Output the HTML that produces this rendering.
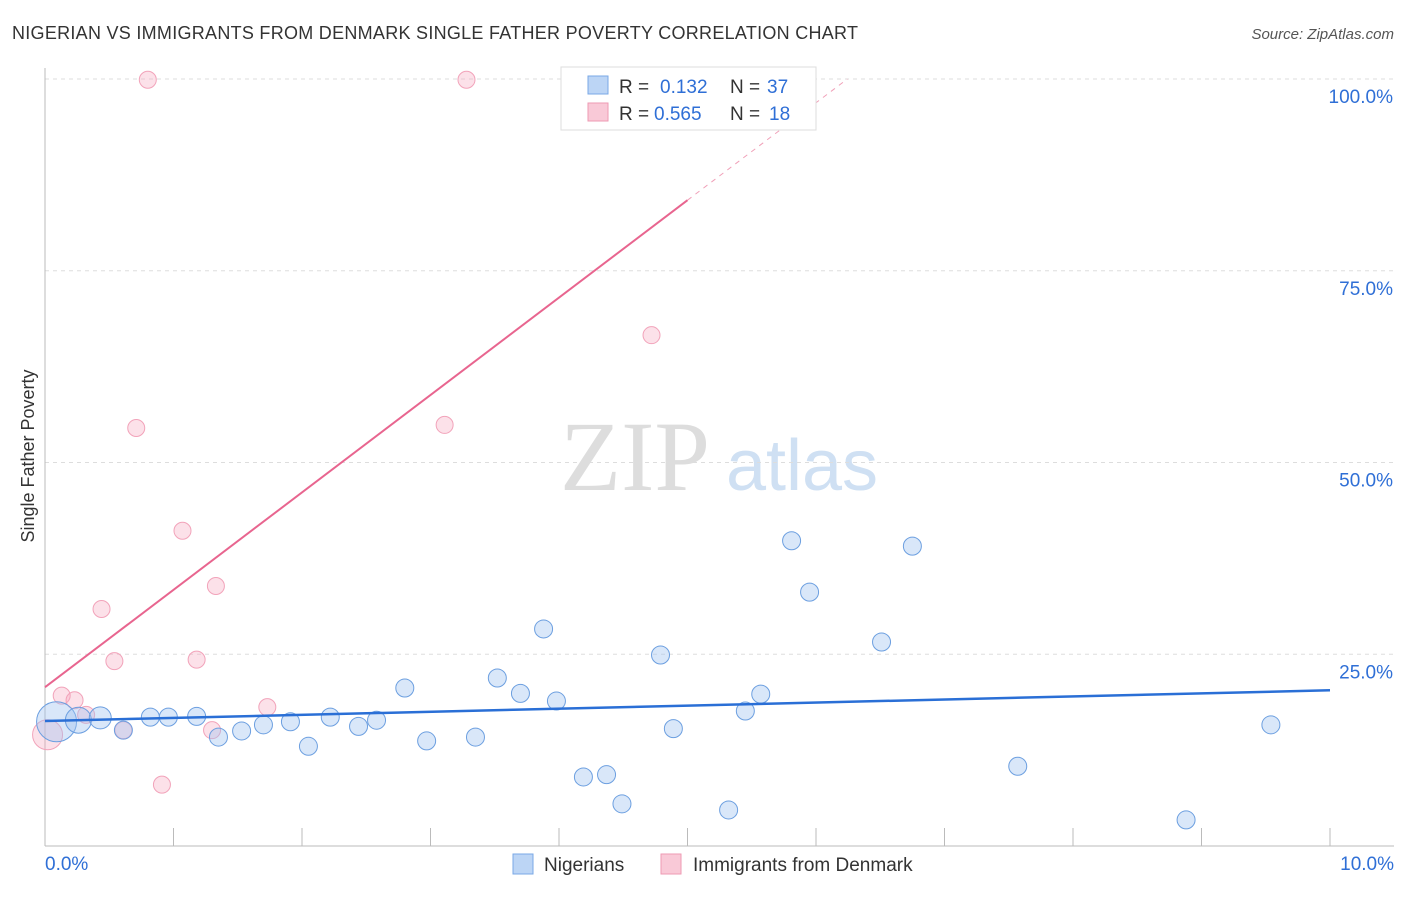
<!DOCTYPE html>
<html><head><meta charset="utf-8"><style>
body{margin:0;background:#fff;font-family:"Liberation Sans",sans-serif;}
svg text{font-family:"Liberation Sans",sans-serif;}
</style></head><body>
<svg width="1406" height="892" id="c">
<text x="12" y="39" font-size="18" fill="#333" textLength="846">NIGERIAN VS IMMIGRANTS FROM DENMARK SINGLE FATHER POVERTY CORRELATION CHART</text>
<text x="1394" y="39" font-size="15" fill="#555" font-style="italic" text-anchor="end">Source: ZipAtlas.com</text>
<text x="635" y="490" font-size="100" fill="#ddd" font-family="Liberation Serif" text-anchor="middle" style="font-family:'Liberation Serif',serif">ZIP</text>
<text x="802" y="490" font-size="72" fill="#cfe0f3" text-anchor="middle">atlas</text>
<text x="34" y="456" font-size="18" fill="#333" text-anchor="middle" transform="rotate(-90 34 456)">Single Father Poverty</text>
<g id="grid"></g><g id="pts"></g><g id="lines"></g>
<g>
<rect x="561" y="67" width="255" height="63" fill="#fff" stroke="#ddd"/>
<rect x="588" y="76" width="20" height="18" fill="#bcd5f5" stroke="#7aa8e6"/>
<rect x="588" y="103" width="20" height="18" fill="#f9c9d7" stroke="#ee9ab3"/>
<text x="619" y="93" font-size="19" fill="#333">R =</text><text x="660" y="93" font-size="19" fill="#2f6fd6">0.132</text>
<text x="730" y="93" font-size="19" fill="#333">N =</text><text x="767" y="93" font-size="19" fill="#2f6fd6">37</text>
<text x="619" y="120" font-size="19" fill="#333">R =</text><text x="654" y="120" font-size="19" fill="#2f6fd6">0.565</text>
<text x="730" y="120" font-size="19" fill="#333">N =</text><text x="769" y="120" font-size="19" fill="#2f6fd6">18</text>
</g>
<g>
<rect x="513" y="854" width="20" height="20" fill="#bcd5f5" stroke="#7aa8e6"/>
<text x="544" y="871" font-size="19" fill="#333">Nigerians</text>
<rect x="661" y="854" width="20" height="20" fill="#f9c9d7" stroke="#ee9ab3"/>
<text x="693" y="871" font-size="19" fill="#333">Immigrants from Denmark</text>
</g>
</svg>
<script>
const blueX=[0.09,0.26,0.43,0.61,0.82,0.96,1.18,1.35,1.53,1.70,1.91,2.05,2.22,2.44,2.58,2.80,2.97,3.35,3.52,3.70,3.88,3.98,4.19,4.37,4.49,4.79,4.89,5.32,5.45,5.57,5.81,5.95,6.51,6.75,7.57,8.88,9.54];
const blueY=[16.2,16.4,16.7,15.1,16.8,16.8,16.9,14.2,15.0,15.8,16.2,13.0,16.8,15.6,16.4,20.6,13.7,14.2,21.9,19.9,28.3,18.9,9.0,9.3,5.5,24.9,15.3,4.7,17.6,19.8,39.8,33.1,26.6,39.1,10.4,3.4,15.8];
const pinkX=[0.02,0.13,0.23,0.32,0.44,0.54,0.61,0.71,0.80,0.91,1.07,1.18,1.33,1.30,1.73,3.11,3.28,4.72];
const pinkY=[14.5,19.6,19.0,17.1,30.9,24.1,15.1,54.5,99.9,8.0,41.1,24.3,33.9,15.1,18.1,54.9,99.9,66.6];
const yTicks=[25,50,75,100];
const blueTrend=[16.3,20.3];
const pinkTrend=[20.7,12.7];
const NS="http://www.w3.org/2000/svg";
const sx=v=>45+v*128.5, sy=v=>846-v*7.67;
function mk(t,a,p){const e=document.createElementNS(NS,t);for(const k in a)e.setAttribute(k,a[k]);p.appendChild(e);return e;}
const g=document.getElementById('grid');
yTicks.forEach(t=>{
 const l=mk('line',{x1:45,x2:1394,y1:sy(t),y2:sy(t),stroke:'#ddd','stroke-dasharray':'4,4'},g);
 
 
 const tx=mk('text',{x:1393,y:sy(t)+24,'font-size':19,fill:'#2f6fd6','text-anchor':'end'},g);
 tx.textContent=t.toFixed(1)+'%';
 
 
});
mk('line',{x1:45,x2:45,y1:68,y2:846,stroke:'#bbb'},g);
mk('line',{x1:45,x2:1394,y1:846,y2:846,stroke:'#bbb'},g);
for(let i=1;i<=10;i++)mk('line',{x1:45+i*128.5,x2:45+i*128.5,y1:828,y2:846,stroke:'#bbb'},g);
let t0=mk('text',{x:45,y:870,'font-size':19,fill:'#2f6fd6'},g);t0.textContent='0.0%';


let t1=mk('text',{x:1394,y:870,'font-size':19,fill:'#2f6fd6','text-anchor':'end'},g);t1.textContent='10.0%';


const p=document.getElementById('pts');
pinkX.forEach((x,i)=>{
 const c=mk('circle',{cx:sx(x),cy:sy(pinkY[i]),r:i==0?15:8.5,fill:'rgba(246,170,192,0.35)',stroke:'#f2a3ba','stroke-width':1},p);
 
 
});
blueX.forEach((x,i)=>{
 const c=mk('circle',{cx:sx(x),cy:sy(blueY[i]),r:i==0?20:i==1?13:i==2?11:9,fill:'rgba(160,195,240,0.4)',stroke:'#6c9fe0','stroke-width':1},p);
 
 
});
const L=document.getElementById('lines');
const bl=mk('line',{x1:sx(0),y1:sy(blueTrend[0]),x2:sx(10),y2:sy(blueTrend[1]),stroke:'#2a6fd6','stroke-width':2.5},L);


const xe=5.0, xd=(100-pinkTrend[0])/pinkTrend[1];
const pl=mk('line',{x1:sx(0),y1:sy(pinkTrend[0]),x2:sx(xe),y2:sy(pinkTrend[0]+pinkTrend[1]*xe),stroke:'#e8658f','stroke-width':2},L);


const pd=mk('line',{x1:sx(xe),y1:sy(pinkTrend[0]+pinkTrend[1]*xe),x2:sx(xd),y2:sy(100),stroke:'#f0a0b8','stroke-width':1,'stroke-dasharray':'5,5'},L);


</script>
</body></html>
